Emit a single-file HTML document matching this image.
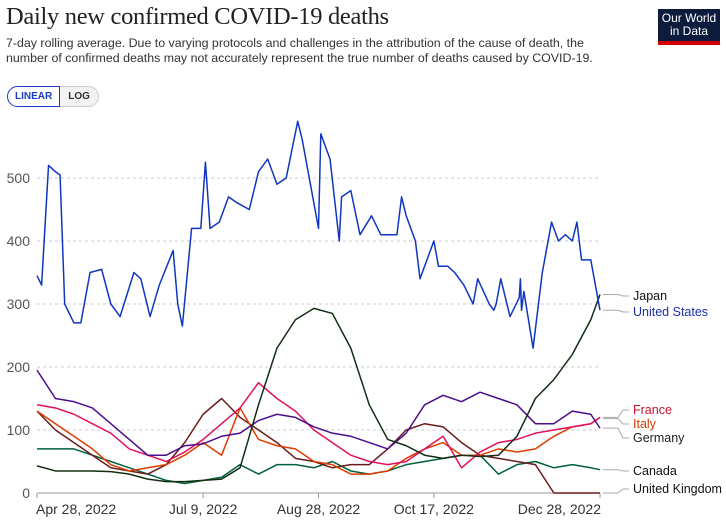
<!DOCTYPE html>
<html><head><meta charset="utf-8"><style>
body{margin:0;background:#fff;width:726px;height:525px;overflow:hidden;font-family:"Liberation Sans",sans-serif}
.t{position:absolute;left:6px;top:3px;font-family:"Liberation Serif",serif;font-size:24.5px;color:#222;letter-spacing:-0.3px}
.s{position:absolute;left:6px;top:36px;font-size:12.4px;color:#333;line-height:15px;width:598px}
.logo{position:absolute;left:658px;top:9px;width:62px;height:36px;background:#0d1c3d;color:#fff;font-size:12px;text-align:center;line-height:13px;padding-top:3px;box-sizing:border-box;border-bottom:4px solid #d40000}
.btns{position:absolute;left:7px;top:86px;display:flex;font-size:10px;font-weight:bold}
.b1{border:1.5px solid #1a3ac8;color:#1a3ac8;border-radius:12px 0 0 12px;padding:4px 7px}
.b2{border:1px solid #ccc;border-left:none;color:#333;border-radius:0 12px 12px 0;padding:4px 8px;background:#f2f2f2}
</style></head><body>
<div class="t">Daily new confirmed COVID-19 deaths</div>
<div class="s">7-day rolling average. Due to varying protocols and challenges in the attribution of the cause of death, the number of confirmed deaths may not accurately represent the true number of deaths caused by COVID-19.</div>
<div class="logo">Our World<br>in Data</div>
<div class="btns"><div class="b1">LINEAR</div><div class="b2">LOG</div></div>
<svg id="c" width="726" height="525" style="position:absolute;left:0;top:0"></svg>
<script>
const yTicks=[0,100,200,300,400,500];
const xTickDays=[0,72,122,172,244];
const xTickLabels=["Apr 28, 2022","Jul 9, 2022","Aug 28, 2022","Oct 17, 2022","Dec 28, 2022"];
const gridDays=[0,8,16,24,32,40,48,56,64,72,80,88,96,104,112,120,128,136,144,152,160,168,176,184,192,200,208,216,224,232,240,244];
const usDays=[0,2,5,8,10,12,16,19,23,28,32,36,42,45,49,53,59,61,63,67,71,73,75,79,83,87,92,96,100,104,108,113,115,122,123,127,131,132,136,140,145,149,156,158,160,164,166,170,172,174,178,181,185,189,191,196,198,199,201,205,209,209.5,210,211,215,219,223,226,229,232,234,236,240,244];
const usVals=[345,330,520,510,505,300,270,270,350,355,300,280,350,340,280,330,385,300,265,420,420,525,420,430,470,460,450,510,530,490,500,590,560,420,570,530,400,470,480,410,440,410,410,470,440,400,340,380,400,360,360,350,330,300,340,300,290,300,340,280,310,340,290,320,230,350,430,400,410,400,430,370,370,290];
const japan=[43,35,35,35,34,30,22,18,18,20,22,40,140,230,275,293,285,230,140,85,75,60,55,60,58,60,90,150,180,220,275,315];
const germany=[195,150,145,135,110,85,60,60,75,78,90,95,115,125,120,105,95,90,80,70,95,140,155,145,160,150,140,110,110,130,125,103];
const france=[140,135,125,110,95,70,60,50,65,85,110,135,175,150,130,100,80,60,50,45,50,70,90,40,65,80,85,95,100,105,110,120];
const italy=[130,110,90,70,45,35,40,45,60,80,60,135,85,75,70,50,45,30,30,35,55,70,80,60,60,70,65,70,90,105,110,120];
const uk=[130,100,80,60,40,35,30,45,80,125,150,120,100,80,55,50,40,45,45,70,100,110,105,80,60,55,50,45,0,0,0,0];
const canada=[70,70,70,60,50,40,30,20,15,20,25,45,30,45,45,40,50,35,30,35,45,50,55,60,60,30,45,50,40,45,40,37];
const X=d=>37+d*(563/244), Y=v=>493-v*0.63;
const svg=document.getElementById('c'),NS='http://www.w3.org/2000/svg';
function mk(t,a){const e=document.createElementNS(NS,t);for(const k in a)e.setAttribute(k,a[k]);svg.appendChild(e);return e;}
yTicks.forEach(v=>{
 const l=mk('line',{x1:37,x2:600,y1:Y(v),y2:Y(v),stroke:v?'#ccc':'#999','stroke-dasharray':v?'3,3':'none'});
 
 
 const t=mk('text',{x:30,y:Y(v)+5,'text-anchor':'end','font-size':14,fill:'#555'});t.textContent=v;
 
 
});
xTickDays.forEach((d,i)=>{
 mk('line',{x1:X(d),x2:X(d),y1:493,y2:498,stroke:'#999'});
 const t=mk('text',{x:X(d),y:514,'text-anchor':i==0?'start':(i==4?'end':'middle'),'font-size':14,fill:'#333'});
 if(i==0)t.setAttribute('x',X(d)-1);if(i==4)t.setAttribute('x',X(d)+1);
 t.textContent=xTickLabels[i];
 
 
});
function line(days,vals,col,name){
 const p=mk('polyline',{points:days.map((d,i)=>X(d)+','+Y(vals[i])).join(' '),fill:'none',stroke:col,'stroke-width':1.5,'stroke-linejoin':'round'});
 
 
}
line(gridDays,canada,'#00603c','line-canada');
line(gridDays,uk,'#6b1b1b','line-united-kingdom');
line(gridDays,italy,'#e03c00','line-italy');
line(gridDays,france,'#e0115f','line-france');
line(gridDays,germany,'#4b0f8c','line-germany');
line(gridDays,japan,'#132e13','line-japan');
line(usDays,usVals,'#1036c0','line-united-states');
const leg=[["Japan",300,'#111',315],["United States",316,'#1a2fa8',290],["France",414,'#c8102e',120],["Italy",428,'#d43a00',118],["Germany",442,'#222',103],["Canada",475,'#111',37],["United Kingdom",493,'#111',0]];
leg.forEach(([n,y,c,v])=>{
 mk('polyline',{points:`603,${Y(v)} 618,${Y(v)} 623,${y-4} 629,${y-4}`,fill:'none',stroke:'#aaa'});
 const t=mk('text',{x:633,y:y,'font-size':12.5,fill:c});t.textContent=n;
 
 
});
</script>
</body></html>
